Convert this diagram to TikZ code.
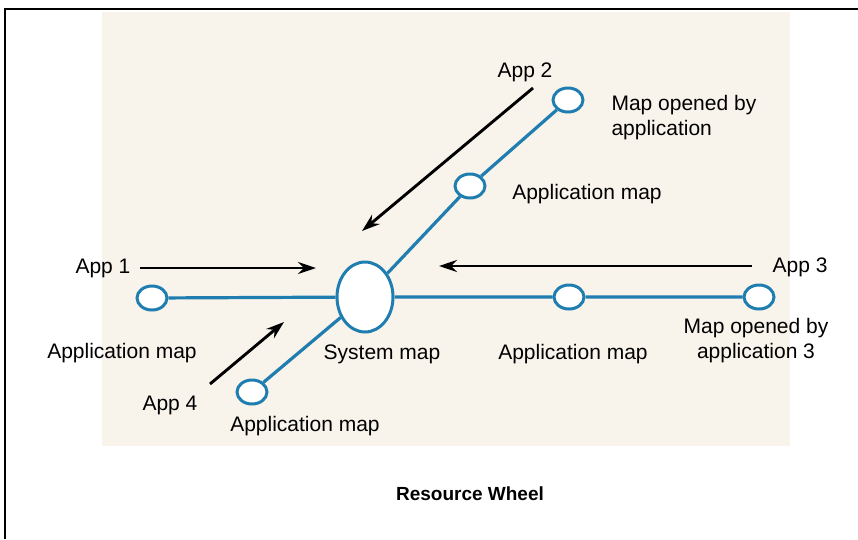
\documentclass[tikz,border=0pt]{standalone}
\usepackage{fontspec}
\setmainfont{Liberation Sans}
\usepackage{tikz}
\usetikzlibrary{arrows.meta,shapes.geometric}
\definecolor{WheelBlue}{HTML}{1F7EAF}
\definecolor{PaperTint}{HTML}{F8F4EC}

\begin{document}
\begin{tikzpicture}[x=1pt,y=-1pt, every node/.style={font=\fontsize{21}{25}\selectfont},
  mapnode/.style={ellipse, draw=WheelBlue, line width=3pt, fill=white, inner sep=0pt, minimum width=30pt, minimum height=24pt},
  spoke/.style={WheelBlue, line width=3.2pt},
  apparrow/.style={line width=2.9pt, -{Stealth[length=18pt,width=12pt]}}]
  \useasboundingbox (0,0) rectangle (858,539);
  \fill[PaperTint] (102,12) rectangle (790,446);
  \draw[line width=2.2pt] (5,539) -- (5,9) -- (858,9);
  \node[mapnode, minimum width=56pt, minimum height=70pt] (sys) at (365,297) {};
  \node[mapnode] (mapA) at (568,100) {};
  \node[mapnode] (mapB) at (470,186) {};
  \node[mapnode] (mapC) at (152,298) {};
  \node[mapnode] (mapD) at (569,297) {};
  \node[mapnode] (mapE) at (759,297) {};
  \node[mapnode] (mapF) at (252,392) {};
  \draw[spoke] (sys) -- (mapB) -- (mapA);
  \draw[spoke] (mapC) -- (sys) -- (mapD) -- (mapE);
  \draw[spoke] (sys) -- (mapF);
  \coordinate (a2s) at (533,88);  \coordinate (a2e) at (362,231);
  \coordinate (a1s) at (140,268); \coordinate (a1e) at (316,268);
  \coordinate (a3s) at (752,266); \coordinate (a3e) at (439,266);
  \coordinate (a4s) at (210,384); \coordinate (a4e) at (284,322);
  \draw[apparrow] (a2s) -- (a2e);
  \draw[apparrow] (a1s) -- (a1e);
  \draw[apparrow] (a3s) -- (a3e);
  \draw[apparrow] (a4s) -- (a4e);
  \node (app2) at (525,72) {App 2};
  \node[anchor=west, align=left] (openA) at (608,118) {Map opened by\\application};
  \node (lblB) at (587,194) {Application map};
  \node (app1) at (103,268) {App 1};
  \node (app3) at (800,267) {App 3};
  \node (lblC) at (122,353) {Application map};
  \node (lblS) at (382,354) {System map};
  \node (lblD) at (573,354) {Application map};
  \node[align=center] (openE) at (756,341) {Map opened by\\application 3};
  \node (app4) at (170,405) {App 4};
  \node (lblF) at (305,426) {Application map};
  \node[font=\fontsize{19}{22}\selectfont\bfseries] (title) at (470,494) {Resource Wheel};
\end{tikzpicture}
\end{document}
